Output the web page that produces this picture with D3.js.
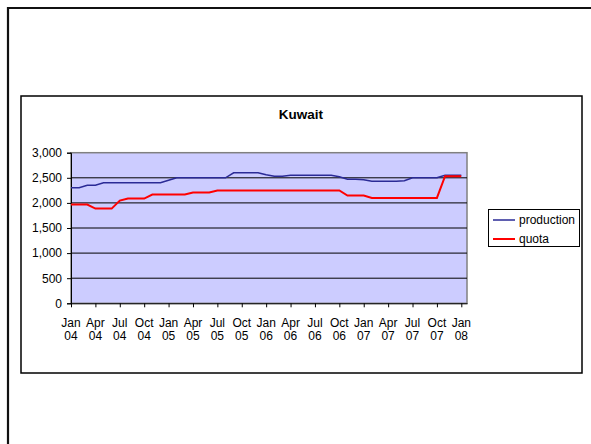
<!DOCTYPE html>
<html>
<head>
<meta charset="utf-8">
<script src="https://cdn.jsdelivr.net/npm/d3@7"></script>
<style>
  body { margin: 0; background: #fff; }
  svg { display: block; }
  text { font-family: Arial, "Liberation Sans", sans-serif; fill: #000; }
</style>
</head>
<body>
<svg id="chart" width="591" height="444"></svg>
<script>
// Monthly observations, Jan 2004 – Jan 2008 (thousand barrels per day)
const months = [
  "2004-01","2004-02","2004-03","2004-04","2004-05","2004-06","2004-07","2004-08","2004-09","2004-10","2004-11","2004-12",
  "2005-01","2005-02","2005-03","2005-04","2005-05","2005-06","2005-07","2005-08","2005-09","2005-10","2005-11","2005-12",
  "2006-01","2006-02","2006-03","2006-04","2006-05","2006-06","2006-07","2006-08","2006-09","2006-10","2006-11","2006-12",
  "2007-01","2007-02","2007-03","2007-04","2007-05","2007-06","2007-07","2007-08","2007-09","2007-10","2007-11","2007-12",
  "2008-01"
];

const production = [
  2300, 2300, 2350, 2350, 2400, 2400, 2400, 2400, 2400, 2400, 2400, 2400,
  2450, 2500, 2500, 2500, 2500, 2500, 2500, 2500, 2600, 2600, 2600, 2600,
  2560, 2530, 2530, 2550, 2550, 2550, 2550, 2550, 2550, 2520, 2470, 2470,
  2460, 2430, 2430, 2430, 2430, 2440, 2500, 2500, 2500, 2500, 2550, 2550,
  2550
];

const quota = [
  1966, 1966, 1966, 1886, 1886, 1886, 2046, 2087, 2087, 2087, 2167, 2167,
  2167, 2167, 2167, 2207, 2207, 2207, 2247, 2247, 2247, 2247, 2247, 2247,
  2247, 2247, 2247, 2247, 2247, 2247, 2247, 2247, 2247, 2247, 2147, 2147,
  2147, 2100, 2100, 2100, 2100, 2100, 2100, 2100, 2100, 2100, 2531, 2531,
  2531
];

const yTicks = [0, 500, 1000, 1500, 2000, 2500, 3000];

const xTickMonths = ["Jan","Apr","Jul","Oct","Jan","Apr","Jul","Oct","Jan","Apr","Jul","Oct","Jan","Apr","Jul","Oct","Jan"];
const xTickYears  = ["04","04","04","04","05","05","05","05","06","06","06","06","07","07","07","07","08"];

const seriesNames = ["production", "quota"];
const seriesColors = ["#2a2a96", "#ff0000"];

const svg = d3.select("#chart");

// page frame
svg.append("line").attr("x1", 8).attr("y1", 8).attr("x2", 591).attr("y2", 8)
  .attr("stroke", "#111").attr("stroke-width", 2);
svg.append("line").attr("x1", 8).attr("y1", 7).attr("x2", 8).attr("y2", 444)
  .attr("stroke", "#111").attr("stroke-width", 2.2);

// chart box
svg.append("rect").attr("x", 21).attr("y", 96).attr("width", 561).attr("height", 277)
  .attr("fill", "#fff").attr("stroke", "#000").attr("stroke-width", 1.5);

svg.append("text").attr("x", 301).attr("y", 119.3).attr("text-anchor", "middle")
  .style("font-size", "13.5px").style("font-weight", "bold").text("Kuwait");

// scales
const plot = { left: 71, right: 467, top: 152.7, bottom: 303.3 };
const x = d3.scaleLinear().domain([0, 48.7]).range([plot.left, plot.right]);
const y = d3.scaleLinear().domain([0, 3000]).range([plot.bottom, plot.top]);

// plot area
svg.append("rect")
  .attr("x", plot.left).attr("y", plot.top)
  .attr("width", plot.right - plot.left).attr("height", plot.bottom - plot.top)
  .attr("fill", "#ccccff").attr("stroke", "#808080").attr("stroke-width", 1.5);

// gridlines
svg.append("g").selectAll("line").data(yTicks.filter(v => v > 0 && v < 3000)).join("line")
  .attr("x1", plot.left).attr("x2", plot.right)
  .attr("y1", d => y(d)).attr("y2", d => y(d))
  .attr("stroke", "#000").attr("stroke-width", 1);

// y axis
const yAxis = svg.append("g").attr("transform", `translate(${plot.left},0)`)
  .call(d3.axisLeft(y).tickValues(yTicks).tickSize(4).tickPadding(5).tickFormat(d3.format(",")));
yAxis.select(".domain").attr("stroke", "#000");
yAxis.selectAll(".tick line").attr("stroke", "#000");
yAxis.selectAll(".tick text").style("font-size", "12px").style("font-family", "Arial, 'Liberation Sans', sans-serif").attr("fill", "#000");

// x axis
const xTickIdx = xTickMonths.map((_, i) => i * 3);
const xAxis = svg.append("g").attr("transform", `translate(0,${plot.bottom})`)
  .call(d3.axisBottom(x).tickValues(xTickIdx).tickSize(4).tickSizeOuter(0).tickFormat(""));
xAxis.select(".domain").attr("stroke", "#000");
xAxis.selectAll(".tick line").attr("stroke", "#000");

const xLabels = svg.append("g").selectAll("text").data(xTickIdx).join("text")
  .attr("text-anchor", "middle").style("font-size", "12px");
xLabels.append("tspan").attr("x", d => x(d)).attr("y", 327.3).text((d, i) => xTickMonths[i]);
xLabels.append("tspan").attr("x", d => x(d)).attr("y", 340).text((d, i) => xTickYears[i]);

// series lines
const line = d3.line().x((d, i) => x(i)).y(d => y(d));
svg.append("path").datum(production).attr("d", line)
  .attr("fill", "none").attr("stroke", seriesColors[0]).attr("stroke-width", 1.5);
svg.append("path").datum(quota).attr("d", line)
  .attr("fill", "none").attr("stroke", seriesColors[1]).attr("stroke-width", 2);

// legend
const legend = svg.append("g");
legend.append("rect").attr("x", 488.5).attr("y", 209.5).attr("width", 91).attr("height", 37)
  .attr("fill", "#fff").attr("stroke", "#000").attr("stroke-width", 1);
const rowY = [220, 239];
seriesNames.forEach((name, i) => {
  legend.append("line").attr("x1", 493).attr("x2", 515).attr("y1", rowY[i]).attr("y2", rowY[i])
    .attr("stroke", seriesColors[i]).attr("stroke-width", i === 0 ? 1.5 : 2);
  legend.append("text").attr("x", 519).attr("y", rowY[i] + 3.5).style("font-size", "12px").text(name);
});
</script>
</body>
</html>
